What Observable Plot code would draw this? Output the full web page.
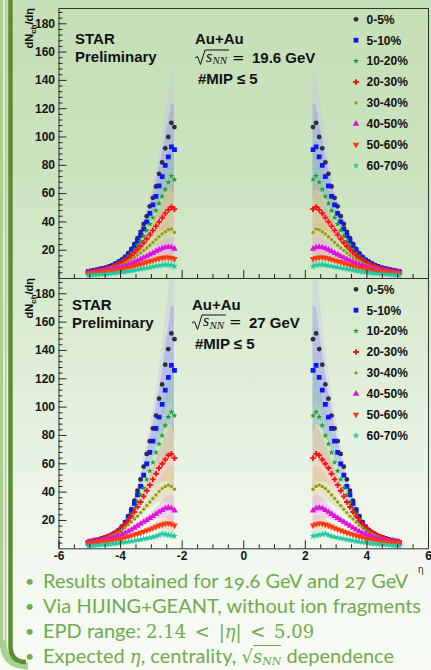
<!DOCTYPE html>
<html>
<head>
<meta charset="utf-8">
<script src="https://cdn.jsdelivr.net/npm/d3@7"></script>
<script src="https://cdn.jsdelivr.net/npm/@observablehq/plot@0.6"></script>
<style>
html,body{margin:0;padding:0;}
body{width:431px;height:670px;overflow:hidden;background:#f8fbf6;}
#page{position:relative;width:431px;height:670px;overflow:hidden;
  background:linear-gradient(to bottom,#c5dfb7 0px,#cae2bd 140px,#d5e9cc 280px,#e5f1df 420px,#f2f8ef 560px,#f8fbf6 670px);
  font-family:"Liberation Sans",Arial,sans-serif;}
#lb{position:absolute;left:0;top:0;width:432px;height:670px;}
#top{position:absolute;left:0;top:0;}
#bottom{position:absolute;left:0;top:270px;}
#notes{position:absolute;left:0;top:568px;width:431px;color:#6fab4a;font-family:Lato,"Open Sans",sans-serif;font-size:20px;font-variant-numeric:oldstyle-nums;}
.ln{position:relative;height:25px;line-height:25px;padding-left:43px;white-space:nowrap;}
.b{position:absolute;left:25px;top:0;font-size:16px;}
.m{font-family:"DejaVu Serif",serif;font-size:18px;font-variant-numeric:normal;word-spacing:3px;}
.ov{border-top:1px solid #6fab4a;}
sub{font-size:11px;line-height:0;vertical-align:-2px;}
</style>
</head>
<body>
<div id="page">
  <svg id="lb" width="431" height="670">
    <path d="M3,0 V640 Q3,666 28,666" fill="none" stroke="#a9d08f" stroke-width="7"/>
    <path d="M4,0 V640" fill="none" stroke="#dfeed6" stroke-width="2"/>
    <path d="M10.5,0 V646 Q10.5,662 26,662" fill="none" stroke="#5b8c36" stroke-width="4.5"/>
  </svg>
  <div id="top"></div>
  <div id="bottom"></div>
  <div id="notes">
    <div class="ln"><span class="b">•</span>Results obtained for 19.6 GeV and 27 GeV</div>
    <div class="ln"><span class="b">•</span>Via HIJING+GEANT, without ion fragments</div>
    <div class="ln"><span class="b">•</span>EPD range: <span class="m">2.14 &lt; |<i>η</i>| &lt; 5.09</span></div>
    <div class="ln"><span class="b">•</span>Expected <span class="m"><i>η</i></span>, centrality, <span class="m">√<span class="ov"><i>s</i><sub><i>NN</i></sub></span></span> dependence</div>
  </div>
</div>
<script>
// ---------------- data ----------------
const absEta = [2.25,2.35,2.45,2.55,2.65,2.75,2.85,2.95,3.05,3.15,3.25,3.35,3.45,3.55,3.65,3.75,3.85,3.95,4.05,4.15,4.25,4.35,4.45,4.55,4.65,4.75,4.85,4.95,5.05];
// relative systematic uncertainty (band half-width / value) per |eta| bin
const sysRel = [0.36,0.32,0.28,0.25,0.22,0.19,0.17,0.15,0.13,0.115,0.10,0.09,0.08,0.07,0.065,0.06,0.055,0.05,0.05,0.05,0.05,0.05,0.05,0.05,0.05,0.05,0.05,0.05,0.05];
const centralities = ["0-5%","5-10%","10-20%","20-30%","30-40%","40-50%","50-60%","60-70%"];

// Au+Au 19.6 GeV, dNch/deta vs |eta|
const g19_0_5   = [107,110,100,92,82,74,65,57,51,44,38.5,33,28.5,24.5,21,18,15.5,13.5,12,10.7,9.6,8.7,7.9,7.3,6.8,6.3,5.9,5.4,4.9];
const g19_5_10  = [91,93,86,80,72,65.5,58,52,46,40,35,30.5,26.5,23,20,17,14.8,12.9,11.5,10.3,9.3,8.4,7.7,7.1,6.6,6.1,5.7,5.2,4.8];
const g19_10_20 = [70,72.5,68,63,58,53,48,43,38.5,34,30,26.5,23.5,20.5,18,15.8,13.8,12.2,10.9,9.8,8.8,8,7.3,6.7,6.2,5.8,5.4,5,4.6];
const g19_20_30 = [49,50.5,48.5,46,43,40,37,34,31,28,25.3,22.8,20.5,18.3,16.3,14.5,12.9,11.5,10.3,9.3,8.4,7.6,7,6.4,5.9,5.5,5.1,4.8,4.5];
const g19_30_40 = [32.5,35,34.5,33,31.5,29.5,27.5,25.5,23.5,21.6,19.8,18,16.4,14.9,13.5,12.2,11,10,9.1,8.3,7.6,7,6.4,5.9,5.5,5.1,4.8,4.5,4.2];
const g19_40_50 = [21,22,22.3,22,21.3,20.3,19.2,18,16.9,15.8,14.7,13.6,12.6,11.6,10.7,9.8,9,8.3,7.6,7,6.5,6,5.6,5.2,4.9,4.6,4.3,4.1,3.9];
const g19_50_60 = [13.8,14.6,15,15,14.7,14.2,13.6,12.9,12.2,11.5,10.8,10.1,9.5,8.9,8.3,7.7,7.2,6.7,6.2,5.8,5.4,5.1,4.8,4.5,4.3,4.1,3.9,3.7,3.5];
const g19_60_70 = [8.6,9.4,9.6,9.8,9.5,9.1,8.7,8.2,7.8,7.4,7,6.6,6.2,5.8,5.4,5,4.7,4.4,4.1,3.8,3.6,3.4,3.2,3,2.9,2.8,2.6,2.4,2.2];

// Au+Au 27 GeV
const g27_0_5   = [148,152,141,130,116,106,94,85,76,67,58,49,41,34,28,23,19,15.5,13.2,11.5,10.2,9.1,8.2,7.4,6.7,6.1,5.6,5.1,4.7];
const g27_5_10  = [126,129.5,121,112,102,93,85,76,68,60,52,44,38,32,27,22.5,18.5,15.5,13,11.3,10,9,8.1,7.3,6.6,6,5.5,5,4.6];
const g27_10_20 = [94,96.5,93,87,80,74,68,61,55,49,43,38,33,28.5,24.5,21,17.5,15,13,11.3,10,9,8.1,7.3,6.6,6,5.5,5,4.6];
const g27_20_30 = [64,67,66,63,60,57,53,49,45,41,37,33,29.5,26,23,20,17.5,15.3,13.3,11.8,10.5,9.4,8.5,7.7,7,6.4,5.9,5.4,5];
const g27_30_40 = [42,44,45,44,42.5,40.5,38,35.5,33,30.5,28,25.5,23,21,18.8,16.8,15,13.3,11.8,10.5,9.4,8.5,7.7,7,6.4,5.9,5.4,5,4.6];
const g27_40_50 = [27,28.5,29,28.5,27.3,26,24.5,23,21.6,20.2,19,17.6,16.2,14.8,13.5,12.3,11.2,10.2,9.3,8.5,7.8,7.1,6.6,6.1,5.7,5.3,5,4.7,4.4];
const g27_50_60 = [16.5,17.5,18,17.8,17.2,16.5,15.6,14.6,13.8,13,12.2,11.4,10.7,10,9.3,8.6,8,7.4,6.9,6.4,6,5.6,5.3,5,4.8,4.6,4.4,4.2,4];
const g27_60_70 = [9,9.4,9.8,10.2,10.6,9.6,8.8,8.2,7.8,7.3,6.9,6.5,6.1,5.7,5.3,4.9,4.6,4.3,4,3.7,3.5,3.3,3.1,2.9,2.7,2.5,2.3,2.1,2.0];

const yMajor = [20,40,60,80,100,120,140,160,180];
const xMajor = [-6,-4,-2,0,2,4,6];

// ---------------- styles ----------------
const triDown = {draw(ctx, size){const y=-Math.sqrt(size/(Math.sqrt(3)*3));ctx.moveTo(0,-2*y);ctx.lineTo(-Math.sqrt(3)*y,y);ctx.lineTo(Math.sqrt(3)*y,y);ctx.closePath();}};
const styles = [
  {symbol:"circle",   r:2.4, fill:"#2e2e3c", band:"#c4c4ea", op:0.38},
  {symbol:"square",   r:2.7, fill:"#0a14ff", band:"#6a6aff", op:0.26},
  {symbol:"star",     r:1.9, fill:"#1e9e2c", band:"#5cc86a", op:0.22},
  {symbol:"cross",    r:2.4, fill:"#ff1010", band:"#ff8080", op:0.26},
  {symbol:"circle",   r:1.7, fill:"#9c9a10", band:"#c4bc66", op:0.26},
  {symbol:"triangle", r:2.4, fill:"#e010e0", band:"#f090f0", op:0.32},
  {symbol:triDown,    r:2.4, fill:"#ff3a10", band:"#ff9a7a", op:0.26},
  {symbol:"star",     r:2.1, fill:"#20c8a0", band:"#60e0c8", op:0.28}
];
const symMap = {circle:d3.symbolCircle, square:d3.symbolSquare, star:d3.symbolStar, cross:d3.symbolCross, triangle:d3.symbolTriangle};
const yMinor = d3.range(4, 190, 4).filter(v => v % 20 !== 0);
const xMinor = d3.range(-6, 6.01, 0.5).filter(v => v % 2 !== 0);
const FONT = "'Liberation Sans', Arial, sans-serif";

function makePanel(series, withLabels, height, marginBottom) {
  const rows = [];
  series.forEach((vals, s) => vals.forEach((v, i) => {
    for (const side of [-1, 1]) rows.push({s, side, eta: side * absEta[i], v, lo: v * (1 - sysRel[i]), hi: v * (1 + sysRel[i])});
  }));
  const marks = [];
  styles.forEach((st, s) => marks.push(Plot.areaY(rows.filter(d => d.s === s), {x:"eta", y1:"lo", y2:"hi", z:"side", fill:st.band, fillOpacity:st.op, clip:true})));
  [0,1].forEach(s => marks.push(Plot.ruleY(rows.filter(d => d.s === s && Math.abs(d.eta) < 3.2), {y:"v", x1:d => d.eta - 0.05, x2:d => d.eta + 0.05, stroke:styles[s].fill, strokeWidth:1, clip:true})));
  styles.forEach((st, s) => marks.push(Plot.dot(rows.filter(d => d.s === s), {x:"eta", y:"v", symbol:st.symbol, r:st.r, fill:st.fill, stroke:"none", clip:true})));
  marks.push(
    Plot.frame({stroke:"#333", strokeWidth:1}),
    Plot.axisY(yMinor, {anchor:"left", tickSize:-4, tickFormat:() => "", stroke:"#222", label:null}),
    Plot.axisY(yMajor, {anchor:"left", tickSize:-8, tickFormat:() => "", stroke:"#222", label:null}),
    Plot.axisY(yMajor, {anchor:"left", tickSize:0, tickPadding:4, fontSize:12, fontWeight:"bold", fill:"#151515", label:null}),
    Plot.axisX(xMinor, {anchor:"bottom", tickSize:-4, tickFormat:() => "", stroke:"#222", label:null}),
    Plot.axisX(xMajor, {anchor:"bottom", tickSize:-8, tickFormat:() => "", stroke:"#222", label:null})
  );
  if (withLabels) marks.push(Plot.axisX(xMajor, {anchor:"bottom", tickSize:0, tickPadding:3, fontSize:12, fontWeight:"bold", fill:"#151515", label:null, tickFormat:d => d < 0 ? "-" + (-d) : String(d)}));
  return Plot.plot({
    width:431, height, marginTop:8, marginBottom, marginLeft:58.5, marginRight:3,
    x:{domain:[-6,6], label:null}, y:{domain:[0,190.8], label:null},
    style:{background:"transparent", overflow:"visible", fontFamily:FONT},
    marks
  });
}

function annotate(svg, o) {
  const g = d3.select(svg).append("g").attr("font-family", FONT).attr("fill", "#111").attr("text-anchor", "start");
  // y title
  const t = g.append("text").attr("transform", `translate(33,${o.yt}) rotate(-90)`).attr("text-anchor","end").attr("font-size",11).attr("font-weight","bold");
  t.append("tspan").text("dN");
  t.append("tspan").attr("font-size",8).attr("dy",2.5).text("ch");
  t.append("tspan").attr("dy",-2.5).text("/d\u03B7");
  // STAR Preliminary
  g.append("text").attr("x",o.sx).attr("y",o.s1).attr("font-size",15).attr("font-weight","bold").text("STAR");
  g.append("text").attr("x",o.sx).attr("y",o.s2).attr("font-size",15).attr("font-weight","bold").text("Preliminary");
  // system
  g.append("text").attr("x",o.ax).attr("y",o.a1).attr("font-size",15).attr("font-weight","bold").text("Au+Au");
  const x0 = o.rx, b = o.a2;
  g.append("path").attr("d",`M${x0},${b-5} l2.5,-1.5 l3,8 l4.5,-14.5 h24`).attr("fill","none").attr("stroke","#111").attr("stroke-width",1);
  g.append("text").attr("x",x0+11).attr("y",b-1.5).attr("font-family","'Liberation Serif',serif").attr("font-style","italic").attr("font-size",16).text("s");
  g.append("text").attr("x",x0+17.5).attr("y",b+1).attr("font-family","'Liberation Serif',serif").attr("font-style","italic").attr("font-size",11).text("NN");
  g.append("text").attr("x",x0+37).attr("y",b-0.5).attr("font-family","'DejaVu Serif',serif").attr("font-size",15).text("=");
  g.append("text").attr("x",x0+57).attr("y",b).attr("font-size",15).attr("font-weight","bold").text(o.energy);
  g.append("text").attr("x",o.mx).attr("y",o.a3).attr("font-size",15).attr("font-weight","bold").text("#MIP \u2264 5");
  // legend
  centralities.forEach((c, i) => {
    const st = styles[i];
    const y = o.ly + i * 20.9;
    const type = typeof st.symbol === "string" ? symMap[st.symbol] : st.symbol;
    g.append("path").attr("transform",`translate(356,${y})`).attr("d", d3.symbol(type, Math.PI * st.r * st.r)()).attr("fill", st.fill);
    g.append("text").attr("x",366.5).attr("y",y).attr("dy","0.36em").attr("font-size",12).attr("font-weight","bold").text(c);
  });
}

const svgTop = makePanel([g19_0_5,g19_5_10,g19_10_20,g19_20_30,g19_30_40,g19_40_50,g19_50_60,g19_60_70], false, 278, 0);
document.getElementById("top").appendChild(svgTop);
annotate(svgTop, {yt:8, sx:75, s1:44, s2:62, ax:195, a1:43.5, rx:195, a2:63, energy:"19.6 GeV", mx:198, a3:84, ly:19.3});

const svgBot = makePanel([g27_0_5,g27_5_10,g27_10_20,g27_20_30,g27_30_40,g27_40_50,g27_50_60,g27_60_70], true, 308.3, 30);
document.getElementById("bottom").appendChild(svgBot);
annotate(svgBot, {yt:8, sx:72, s1:40, s2:58, ax:192, a1:40, rx:192, a2:58, energy:"27 GeV", mx:195, a3:79, ly:19.3});
d3.select(svgBot).append("text").attr("x",418).attr("y",303).attr("text-anchor","start").attr("font-family",FONT).attr("font-size",10).attr("fill","#333").text("\u03B7");
</script>
</body>
</html>
